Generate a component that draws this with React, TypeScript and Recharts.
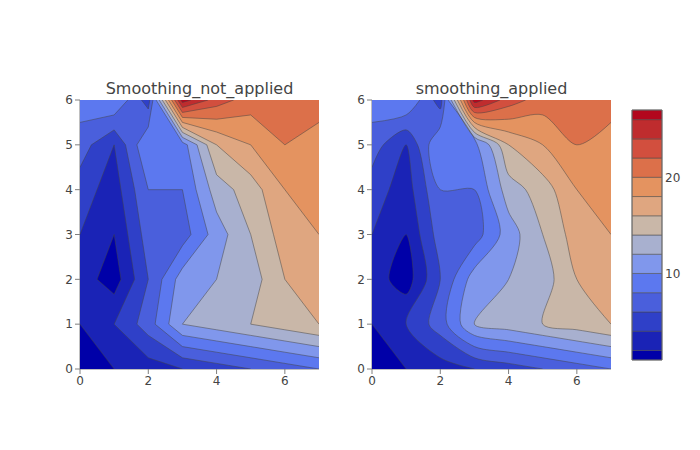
import { ReferenceArea, Scatter, ScatterChart, XAxis, YAxis } from "recharts"

const FONT = '"DejaVu Sans", sans-serif'
const TEXT_COLOR = "#444444"
const AXIS_COLOR = "#7f7f7f"

// z values, one list per y row (y = 0 first)
const row0 = [1, 2, 3, 4, 5, 6, 7, 8]
const row1 = [2, 4, 7, 12, 13, 14, 15, 16]
const row2 = [3, 1, 6, 11, 12, 13, 16, 17]
const row3 = [4, 2, 7, 7, 11, 14, 17, 18]
const row4 = [5, 3, 8, 8, 13, 15, 18, 19]
const row5 = [7, 4, 10, 9, 16, 18, 20, 19]
const row6 = [9, 10, 5, 27, 23, 21, 21, 21]
const zRows = [row0, row1, row2, row3, row4, row5, row6]

const xTicks = [0, 2, 4, 6]
const yTicks = [0, 1, 2, 3, 4, 5, 6]
const barTicks = [10, 20]

// lower edge of every band; the first one sits below all the data
const levels = [0, 2, 4, 6, 8, 10, 12, 14, 16, 18, 20, 22, 24, 26]
const barEdges = [1, 2, 4, 6, 8, 10, 12, 14, 16, 18, 20, 22, 24, 26, 27]
const bandColors = [
  "#0000a8", "#1a23b6", "#2f40c8", "#4a5fdc", "#5c78ef", "#8097ec", "#a8b0cf",
  "#c9b7a8", "#dfa680", "#e49360", "#dc704a", "#d24f3e", "#bf2c2e", "#b2071d",
]

type Pt = { x: number; y: number }
type Seg = { a: Pt; b: Pt; contour: boolean }
type Loop = { pts: Pt[]; contour: boolean[] }

const keyOf = (p: Pt) => `${p.x.toFixed(6)},${p.y.toFixed(6)}`

// marching squares: boundary of the region z > level, region on the left
function traceLoops(level: number): Loop[] {
  const ny = zRows.length - 1
  const nx = zRows[0].length - 1
  const zAt = (p: Pt) => zRows[p.y][p.x]
  const cross = (p: Pt, q: Pt): Pt => {
    const t = (level - zAt(p)) / (zAt(q) - zAt(p))
    return { x: p.x + (q.x - p.x) * t, y: p.y + (q.y - p.y) * t }
  }
  const segs: Seg[] = []
  const addSeg = (a: Pt, b: Pt, contour: boolean) => {
    if (keyOf(a) !== keyOf(b)) segs.push({ a, b, contour })
  }
  const borderEdge = (p: Pt, q: Pt) => {
    const pIn = zAt(p) > level
    const qIn = zAt(q) > level
    if (pIn && qIn) addSeg(p, q, false)
    else if (pIn) addSeg(p, cross(p, q), false)
    else if (qIn) addSeg(cross(p, q), q, false)
  }

  for (let j = 0; j < ny; j++) {
    for (let i = 0; i < nx; i++) {
      const c = [
        { x: i, y: j },
        { x: i + 1, y: j },
        { x: i + 1, y: j + 1 },
        { x: i, y: j + 1 },
      ]
      const events: { pt: Pt; exit: boolean }[] = []
      c.forEach((p, k) => {
        const q = c[(k + 1) % 4]
        const pIn = zAt(p) > level
        if (pIn !== zAt(q) > level) events.push({ pt: cross(p, q), exit: pIn })
      })
      const mean = c.reduce((s, p) => s + zAt(p), 0) / 4
      const step = events.length === 4 && mean <= level ? events.length - 1 : 1
      events.forEach((e, k) => {
        if (e.exit) addSeg(e.pt, events[(k + step) % events.length].pt, true)
      })
    }
  }
  for (let i = 0; i < nx; i++) borderEdge({ x: i, y: 0 }, { x: i + 1, y: 0 })
  for (let j = 0; j < ny; j++) borderEdge({ x: nx, y: j }, { x: nx, y: j + 1 })
  for (let i = nx; i > 0; i--) borderEdge({ x: i, y: ny }, { x: i - 1, y: ny })
  for (let j = ny; j > 0; j--) borderEdge({ x: 0, y: j }, { x: 0, y: j - 1 })

  const used = new Set<Seg>()
  const loops: Loop[] = []
  segs.forEach((first) => {
    if (used.has(first)) return
    const loop: Loop = { pts: [], contour: [] }
    let cur: Seg | undefined = first
    while (cur) {
      used.add(cur)
      loop.pts.push(cur.a)
      loop.contour.push(cur.contour)
      if (keyOf(cur.b) === keyOf(first.a)) break
      const endKey = keyOf(cur.b)
      cur = segs.find((s) => !used.has(s) && keyOf(s.a) === endKey)
    }
    loops.push(loop)
  })
  return loops
}

type XY = [number, number]

function makeTangent(prev: XY, cur: XY, next: XY, smoothness: number): [XY, XY] {
  const d1x = prev[0] - cur[0]
  const d1y = prev[1] - cur[1]
  const d2x = next[0] - cur[0]
  const d2y = next[1] - cur[1]
  const d1a = Math.pow(d1x * d1x + d1y * d1y, 0.25)
  const d2a = Math.pow(d2x * d2x + d2y * d2y, 0.25)
  const numx = (d2a * d2a * d1x - d1a * d1a * d2x) * smoothness
  const numy = (d2a * d2a * d1y - d1a * d1a * d2y) * smoothness
  const denom1 = 3 * d2a * (d1a + d2a)
  const denom2 = 3 * d1a * (d1a + d2a)
  return [
    [cur[0] + (denom1 && numx / denom1), cur[1] + (denom1 && numy / denom1)],
    [cur[0] - (denom2 && numx / denom2), cur[1] - (denom2 && numy / denom2)],
  ]
}

const fmt = (p: XY) => `${p[0].toFixed(2)},${p[1].toFixed(2)}`

// drop points that sit very close together, they make the curve kink
function prune(input: XY[], smoothness: number): XY[] {
  const pts = input.slice()
  const dist = (a: XY, b: XY) => Math.hypot(a[0] - b[0], a[1] - b[1])
  let total = 0
  for (let i = 1; i < pts.length; i++) total += dist(pts[i], pts[i - 1])
  const threshold = (total / (pts.length - 1)) * 0.2 * smoothness
  for (let i = pts.length - 2; i >= 1; i--) {
    if (dist(pts[i], pts[i + 1]) < threshold) {
      if (i + 1 === pts.length - 1) pts.splice(i, 1)
      else pts.splice(i, 2, [(pts[i][0] + pts[i + 1][0]) / 2, (pts[i][1] + pts[i + 1][1]) / 2])
    }
  }
  return pts
}

function curveTo(input: XY[], smoothness: number, closed: boolean): string {
  if (!smoothness || input.length < 3) return input.slice(1).map((p) => `L${fmt(p)}`).join("")
  if (closed) {
    const n = input.length
    const tangents = input.map((p, i) => makeTangent(input[(i + n - 1) % n], p, input[(i + 1) % n], smoothness))
    let d = ""
    for (let i = 0; i < n; i++) {
      const next = (i + 1) % n
      d += `C${fmt(tangents[i][1])} ${fmt(tangents[next][0])} ${fmt(input[next])}`
    }
    return d
  }
  const pts = prune(input, smoothness)
  if (pts.length < 3) return pts.slice(1).map((p) => `L${fmt(p)}`).join("")
  const tangents: [XY, XY][] = []
  for (let i = 1; i < pts.length - 1; i++) tangents.push(makeTangent(pts[i - 1], pts[i], pts[i + 1], smoothness))
  let d = `Q${fmt(tangents[0][0])} ${fmt(pts[1])}`
  for (let i = 2; i < pts.length - 1; i++) {
    d += `C${fmt(tangents[i - 2][1])} ${fmt(tangents[i - 1][0])} ${fmt(pts[i])}`
  }
  d += `Q${fmt(tangents[tangents.length - 1][1])} ${fmt(pts[pts.length - 1])}`
  return d
}

// turns the scaled points of one level back into fill and line paths
function buildPaths(loops: Loop[], points: Pt[], smoothness: number) {
  let fill = ""
  let line = ""
  let offset = 0
  loops.forEach((loop) => {
    const n = loop.pts.length
    const pix: XY[] = points.slice(offset, offset + n).map((p) => [p.x, p.y])
    offset += n
    if (loop.contour.every((c) => c)) {
      const d = `M${fmt(pix[0])}${curveTo(pix, smoothness, true)}Z`
      fill += d
      line += d
      return
    }
    if (loop.contour.every((c) => !c)) {
      fill += `M${fmt(pix[0])}${pix.slice(1).map((p) => `L${fmt(p)}`).join("")}Z`
      return
    }
    let start = 0
    while (loop.contour[start] === loop.contour[(start + n - 1) % n]) start++
    fill += `M${fmt(pix[start])}`
    let i = 0
    while (i < n) {
      const kind = loop.contour[(start + i) % n]
      const run: XY[] = [pix[(start + i) % n]]
      while (i < n && loop.contour[(start + i) % n] === kind) {
        i++
        run.push(pix[(start + i) % n])
      }
      const d = curveTo(run, kind ? smoothness : 0, false)
      fill += d
      if (kind) line += `M${fmt(run[0])}${d}`
    }
    fill += "Z"
  })
  return { fill, line }
}

const levelLoops = levels.map((level) => traceLoops(level))
const barPoints = barEdges.map((y) => ({ x: 0, y }))

const noPoint = () => <g />

function ContourPanel({ left, title, smoothing, id }: { left: number; title: string; smoothing: number; id: string }) {
  const plotW = 239
  const plotH = 269
  const top = 100
  return (
    <div style={{ position: "absolute", left: 0, top: 0 }}>
      <ScatterChart width={700} height={450} margin={{ left: left - 30, right: 700 - left - plotW, top, bottom: 450 - top - plotH - 30 }}>
        <defs>
          <clipPath id={id}>
            <rect x={left} y={top} width={plotW} height={plotH} />
          </clipPath>
        </defs>
        <XAxis
          dataKey="x"
          type="number"
          domain={[0, 7]}
          ticks={xTicks}
          height={30}
          allowDecimals={false}
          tickSize={5}
          tickMargin={2}
          stroke={AXIS_COLOR}
          tick={{ fontFamily: FONT, fontSize: 12, fill: TEXT_COLOR }}
        />
        <YAxis
          dataKey="y"
          type="number"
          domain={[0, 6]}
          ticks={yTicks}
          width={30}
          tickSize={5}
          tickMargin={2}
          stroke={AXIS_COLOR}
          tick={{ fontFamily: FONT, fontSize: 12, fill: TEXT_COLOR }}
        />
        {levelLoops.map((loops, idx) => (
          <Scatter
            key={`fill-${idx}`}
            data={loops.flatMap((l) => l.pts)}
            isAnimationActive={false}
            shape={noPoint}
            line={(p: { points: Pt[] }) => (
              <path
                d={buildPaths(loops, p.points, smoothing).fill}
                fill={bandColors[idx]}
                fillRule="evenodd"
                stroke="none"
                clipPath={`url(#${id})`}
              />
            )}
          />
        ))}
        {levelLoops.map((loops, idx) => (
          <Scatter
            key={`line-${idx}`}
            data={loops.flatMap((l) => l.pts)}
            isAnimationActive={false}
            shape={noPoint}
            line={(p: { points: Pt[] }) => (
              <path
                d={buildPaths(loops, p.points, smoothing).line}
                fill="none"
                stroke={TEXT_COLOR}
                strokeWidth={0.5}
                clipPath={`url(#${id})`}
              />
            )}
          />
        ))}
        <text x={left + plotW / 2} y={94} textAnchor="middle" fontFamily={FONT} fontSize={16} fill={TEXT_COLOR}>
          {title}
        </text>
      </ScatterChart>
    </div>
  )
}

function ColorBar() {
  return (
    <div style={{ position: "absolute", left: 0, top: 0 }}>
      <ScatterChart width={700} height={450} margin={{ left: 632, right: 8, top: 110, bottom: 90 }}>
        <XAxis dataKey="x" type="number" domain={[0, 1]} hide />
        <YAxis
          dataKey="y"
          type="number"
          orientation="right"
          domain={[1, 27]}
          ticks={barTicks}
          width={30}
          axisLine={false}
          tickLine={false}
          tickMargin={3}
          tickSize={0}
          tick={{ fontFamily: FONT, fontSize: 12, fill: TEXT_COLOR }}
        />
        <Scatter data={barPoints} isAnimationActive={false} shape={noPoint} />
        {bandColors.map((color, idx) => (
          <ReferenceArea
            key={color}
            x1={0}
            x2={1}
            y1={barEdges[idx]}
            y2={barEdges[idx + 1]}
            fill={color}
            fillOpacity={1}
            stroke={TEXT_COLOR}
            strokeWidth={0.5}
          />
        ))}
        <ReferenceArea x1={0} x2={1} y1={1} y2={27} fill="none" stroke="#6e6e6e" strokeWidth={1} />
      </ScatterChart>
    </div>
  )
}

export default function App() {
  return (
    <div style={{ position: "absolute", left: 0, top: 0, width: 700, height: 450, background: "#fff" }}>
      <ContourPanel left={80} title="Smoothing_not_applied" smoothing={0} id="clip-left" />
      <ContourPanel left={372} title="smoothing_applied" smoothing={0.85} id="clip-right" />
      <ColorBar />
    </div>
  )
}
